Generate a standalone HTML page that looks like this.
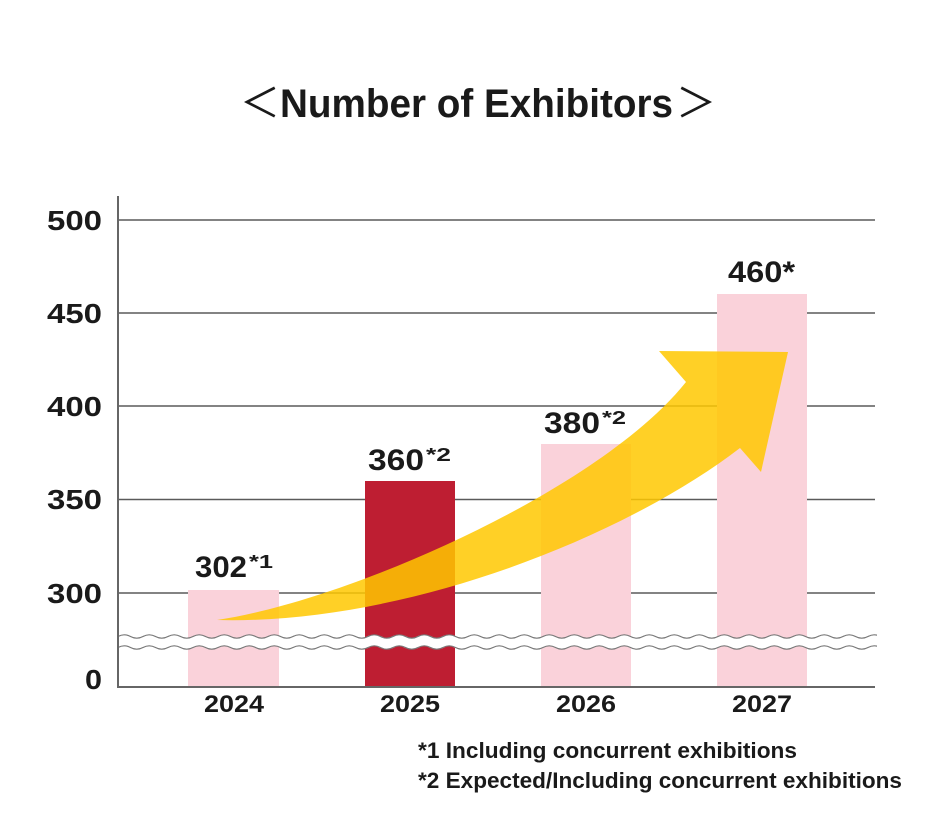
<!DOCTYPE html>
<html>
<head>
<meta charset="utf-8">
<style>
html,body{margin:0;padding:0;background:#fff;}
svg{display:block;}
text{font-family:"Liberation Sans","Noto Sans CJK JP",sans-serif;fill:#1a1a1a;}
</style>
</head>
<body>
<svg width="950" height="840" viewBox="0 0 950 840" xmlns="http://www.w3.org/2000/svg">
<defs>
<path id="w" d="M118,0 q6.25,-3.4 12.5,0 t12.5,0 t12.5,0 t12.5,0 t12.5,0 t12.5,0 t12.5,0 t12.5,0 t12.5,0 t12.5,0 t12.5,0 t12.5,0 t12.5,0 t12.5,0 t12.5,0 t12.5,0 t12.5,0 t12.5,0 t12.5,0 t12.5,0 t12.5,0 t12.5,0 t12.5,0 t12.5,0 t12.5,0 t12.5,0 t12.5,0 t12.5,0 t12.5,0 t12.5,0 t12.5,0 t12.5,0 t12.5,0 t12.5,0 t12.5,0 t12.5,0 t12.5,0 t12.5,0 t12.5,0 t12.5,0 t12.5,0 t12.5,0 t12.5,0 t12.5,0 t12.5,0 t12.5,0 t12.5,0 t12.5,0 t12.5,0 t12.5,0 t12.5,0 t12.5,0 t12.5,0 t12.5,0 t12.5,0 t12.5,0 t12.5,0 t12.5,0 t12.5,0 t12.5,0 t12.5,0 t12.5,0 t12.5,0 t12.5,0 t12.5,0 t12.5,0 t12.5,0 t12.5,0"/>
<clipPath id="cw"><rect x="117" y="600" width="760" height="80"/></clipPath>
</defs>

<!-- Title -->
<text x="240" y="117" font-size="40" style="font-family:'Noto Sans CJK JP',sans-serif;font-weight:400">＜</text>
<text x="280" y="117" font-size="40" font-weight="700" textLength="393" lengthAdjust="spacingAndGlyphs">Number of Exhibitors</text>
<text x="676" y="117" font-size="40" style="font-family:'Noto Sans CJK JP',sans-serif;font-weight:400">＞</text>

<!-- Gridlines -->
<g stroke="#5a5a5a" stroke-width="1.4">
<line x1="118" y1="220" x2="875" y2="220"/>
<line x1="118" y1="313" x2="875" y2="313"/>
<line x1="118" y1="406" x2="875" y2="406"/>
<line x1="118" y1="499.5" x2="875" y2="499.5"/>
<line x1="118" y1="593" x2="875" y2="593"/>
</g>

<!-- Bars -->
<rect x="188" y="590" width="91" height="97" fill="#FAD2DA"/>
<rect x="365" y="481" width="90" height="206" fill="#BE1E32"/>
<rect x="541" y="444" width="90" height="243" fill="#FAD2DA"/>
<rect x="717" y="294" width="90" height="393" fill="#FAD2DA"/>

<!-- Axis break -->
<g clip-path="url(#cw)">
<use href="#w" transform="translate(0,642)" stroke="#fff" stroke-width="11" fill="none"/>
<use href="#w" transform="translate(0,636.5)" stroke="#777" stroke-width="1.2" fill="none"/>
<use href="#w" transform="translate(0,647.5)" stroke="#777" stroke-width="1.2" fill="none"/>
</g>

<!-- Axes -->
<g stroke="#666" stroke-width="2" fill="none">
<line x1="118" y1="196" x2="118" y2="688"/>
<line x1="117" y1="687" x2="875" y2="687"/>
</g>

<!-- Arrow -->
<path d="M217,620 C350,600 600,490 686,382 L659,351 L788,352 L761,472 L740,448 C620,540 400,625 217,620 Z" fill="#FFC800" fill-opacity="0.85"/>

<!-- Y labels -->
<g font-size="28" font-weight="700" text-anchor="end">
<text x="102" y="230" textLength="55" lengthAdjust="spacingAndGlyphs">500</text>
<text x="102" y="323" textLength="55" lengthAdjust="spacingAndGlyphs">450</text>
<text x="102" y="416" textLength="55" lengthAdjust="spacingAndGlyphs">400</text>
<text x="102" y="509" textLength="55" lengthAdjust="spacingAndGlyphs">350</text>
<text x="102" y="603" textLength="55" lengthAdjust="spacingAndGlyphs">300</text>
<text x="102" y="689" textLength="17" lengthAdjust="spacingAndGlyphs">0</text>
</g>

<!-- X labels -->
<g font-size="24" font-weight="700">
<text x="204" y="712" textLength="60" lengthAdjust="spacingAndGlyphs">2024</text>
<text x="380" y="712" textLength="60" lengthAdjust="spacingAndGlyphs">2025</text>
<text x="556" y="712" textLength="60" lengthAdjust="spacingAndGlyphs">2026</text>
<text x="732" y="712" textLength="60" lengthAdjust="spacingAndGlyphs">2027</text>
</g>

<!-- Value labels -->
<g font-weight="700">
<text x="195" y="577" font-size="30" textLength="52" lengthAdjust="spacingAndGlyphs">302</text>
<text x="249" y="568" font-size="18" textLength="24" lengthAdjust="spacingAndGlyphs">*1</text>
<text x="368" y="470" font-size="30" textLength="56" lengthAdjust="spacingAndGlyphs">360</text>
<text x="426" y="461" font-size="18" textLength="25" lengthAdjust="spacingAndGlyphs">*2</text>
<text x="544" y="433" font-size="30" textLength="56" lengthAdjust="spacingAndGlyphs">380</text>
<text x="602" y="424" font-size="18" textLength="24" lengthAdjust="spacingAndGlyphs">*2</text>
<text x="728" y="282" font-size="30" textLength="67" lengthAdjust="spacingAndGlyphs">460*</text>
</g>

<!-- Footnotes -->
<g font-size="22" font-weight="700">
<text x="418" y="758" textLength="379" lengthAdjust="spacingAndGlyphs">*1 Including concurrent exhibitions</text>
<text x="418" y="788" textLength="484" lengthAdjust="spacingAndGlyphs">*2 Expected/Including concurrent exhibitions</text>
</g>
</svg>
</body>
</html>
